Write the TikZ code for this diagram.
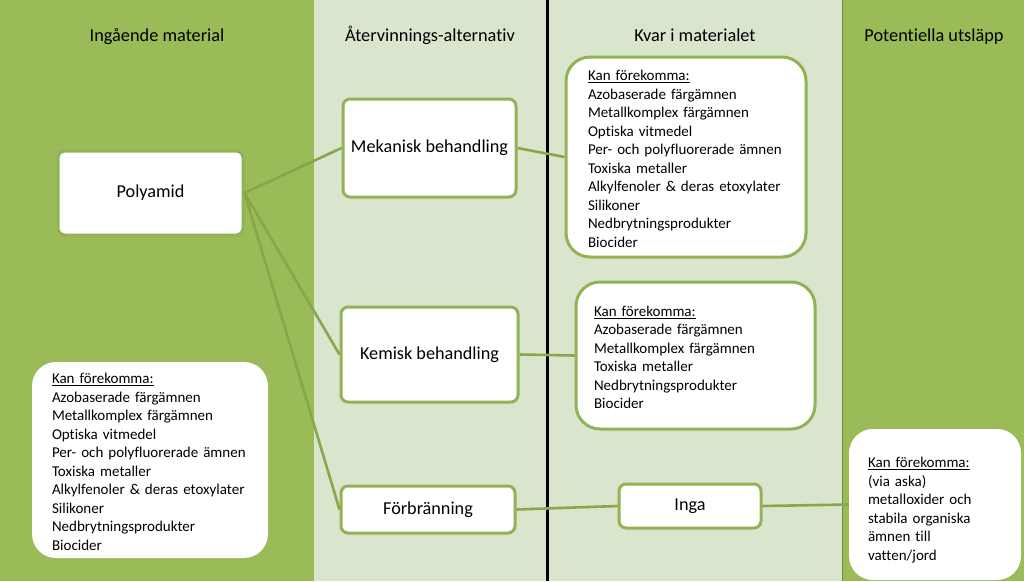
\documentclass[tikz,border=0pt]{standalone}
\usepackage{fontspec}
\setmainfont{Carlito}[Ligatures=NoCommon]
\begin{document}
\definecolor{darkbg}{HTML}{9BBB59}
\definecolor{lightbg}{HTML}{D9E5CC}
\definecolor{boxgreen}{HTML}{92B355}
\definecolor{conngreen}{HTML}{86A84A}
\definecolor{sepgreen}{HTML}{6F8F38}
\newcommand{\lst}[2][-3.5pt]{\raisebox{#1}[\height][\depth]{\begin{tabular}{@{}l@{}}#2\end{tabular}}}
\begin{tikzpicture}[x=1pt,y=-1pt,
  header/.style={font=\fontsize{18.3}{21}\selectfont, anchor=base},
  procbox/.style={draw=boxgreen, line width=3pt, fill=white, rounded corners=7pt,
    font=\fontsize{18.2}{21}\selectfont, inner sep=0pt},
  listbox/.style={fill=white, rounded corners=24pt, align=left, inner ysep=0pt,
    font=\fontsize{15}{18.5}\selectfont},
  conn/.style={draw=conngreen, line width=2.6pt}]
\useasboundingbox (0,0) rectangle (1024,581);
% columns
\fill[darkbg] (0,0) rectangle (314,581);
\fill[lightbg] (314,0) rectangle (547,581);
\fill[lightbg] (547,0) rectangle (842,581);
\fill[darkbg] (842,0) rectangle (1024,581);
\draw[black, line width=3pt] (547,0) -- (547,581);
\draw[sepgreen, line width=1.3pt] (842.5,0) -- (842.5,581);
% headers
\node[header] (h1) at (157,41) {Ingående material};
\node[header] (h2) at (430,41) {Återvinnings-alternativ};
\node[header] (h3) at (695,41) {Kvar i materialet};
\node[header] (h4) at (934,41) {Potentiella utsläpp};
% boxes
\node[procbox, minimum width=185pt, minimum height=84pt] (poly) at (150.5,193) {Polyamid};
\node[procbox, minimum width=173pt, minimum height=98pt] (mek) at (429.5,148) {Mekanisk behandling};
\node[procbox, minimum width=177pt, minimum height=95pt] (kem) at (429.5,354.5) {Kemisk behandling};
\node[procbox, minimum width=174pt, minimum height=47pt] (forb) at (428,509.5) {Förbränning};
\node[procbox, minimum width=142pt, minimum height=44pt] (inga) at (690,506) {Inga};
% list boxes
\node[listbox, draw=boxgreen, line width=3pt, inner xsep=22pt, text width=196pt, minimum height=200pt] (meklist) at (686,157)
{\lst{\underline{Kan förekomma:}\\Azobaserade färgämnen\\Metallkomplex färgämnen\\Optiska vitmedel\\Per- och polyfluorerade ämnen\\Toxiska metaller\\Alkylfenoler \& deras etoxylater\\Silikoner\\Nedbrytningsprodukter\\Biocider}};
\node[listbox, draw=boxgreen, line width=3pt, inner xsep=18pt, text width=203pt, minimum height=147pt] (kemlist) at (695.5,355.5)
{\lst{\underline{Kan förekomma:}\\Azobaserade färgämnen\\Metallkomplex färgämnen\\Toxiska metaller\\Nedbrytningsprodukter\\Biocider}};
\node[listbox, inner xsep=20pt, text width=196pt, minimum height=196pt] (inlist) at (150,460)
{\lst{\underline{Kan förekomma:}\\Azobaserade färgämnen\\Metallkomplex färgämnen\\Optiska vitmedel\\Per- och polyfluorerade ämnen\\Toxiska metaller\\Alkylfenoler \& deras etoxylater\\Silikoner\\Nedbrytningsprodukter\\Biocider}};
\node[listbox, inner xsep=19pt, text width=134pt, minimum height=151pt] (utlist) at (935,504.5)
{\lst[-6pt]{\underline{Kan förekomma:}\\(via aska)\\metalloxider och\\stabila organiska\\ämnen till\\vatten/jord}};
% connectors
\draw[conn] (poly.east) -- (mek.west);
\draw[conn] (poly.east) -- (kem.west);
\draw[conn] (poly.east) -- (forb.west);
\draw[conn] (mek.east) -- (meklist.west);
\draw[conn] (kem.east) -- (kemlist.west);
\draw[conn] (forb.east) -- (inga.west);
\draw[conn] (inga.east) -- (utlist.west);
\end{tikzpicture}
\end{document}
